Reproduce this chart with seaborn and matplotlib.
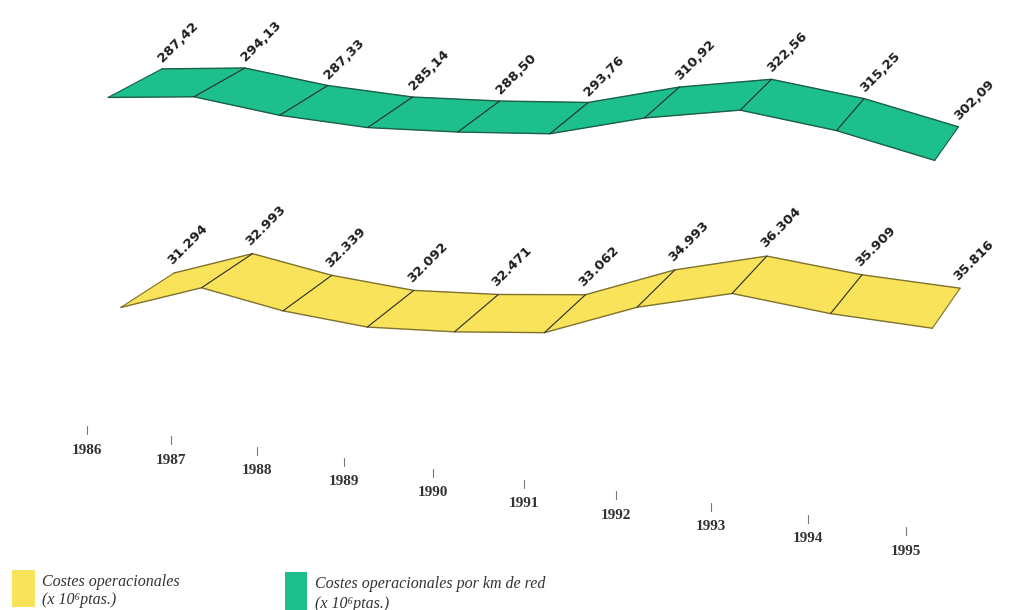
import numpy as np
import pandas as pd
import matplotlib
matplotlib.use("Agg")
import matplotlib.pyplot as plt
from matplotlib.patches import Polygon, Rectangle
import seaborn as sns

# ---------------------------------------------------------------- data
years = [1986, 1987, 1988, 1989, 1990, 1991, 1992, 1993, 1994, 1995]
costes_km = [287.42, 294.13, 287.33, 285.14, 288.50, 293.76, 310.92, 322.56, 315.25, 302.09]
costes_km_labels = ["287,42", "294,13", "287,33", "285,14", "288,50",
                    "293,76", "310,92", "322,56", "315,25", "302,09"]
costes = [31.294, 32.993, 32.339, 32.092, 32.471, 33.062, 34.993, 36.304, 35.909, 35.816]
costes_labels = ["31.294", "32.993", "32.339", "32.092", "32.471",
                 "33.062", "34.993", "36.304", "35.909", "35.816"]
legend_labels = ["Costes operacionales\n(x 10\u2076ptas.)",
                 "Costes operacionales por km de red\n(x 10\u2076ptas.)"]

# ---------------------------------------------------------------- style
sns.set_theme(style="white")
plt.rcParams["font.family"] = ["DejaVu Sans"]

GREEN, GREEN_EDGE = "#1dbf8d", "#1d5f49"
YELLOW, YELLOW_EDGE = "#f8e35a", "#7f7130"
DIVIDER = "#2b2b2b"

# Perspective cameras: (year index, depth 0..1, value, 1) -> canvas pixels.
CAM_KM = np.array([[86.01941, 62.41089, 0.1508115, 68.5423],
                   [8.074319, -26.67364, -1.430141, 511.8162],
                   [-0.009510314, 0.04157585, 0.0001189144, 1.0]])
CAM_COSTES = np.array([[80.65129, 62.83774, 1.02792, 95.05583],
                       [6.813247, -25.65786, -18.35421, 898.0328],
                       [-0.01560413, 0.03880029, 0.001686926, 1.0]])
# Floor line carrying the year ticks: (year index, 1) -> canvas pixels.
CAM_FLOOR = np.array([[82.11032, 87.40316],
                      [6.054795, 426.1189],
                      [-0.009787324, 1.0]])


def project(cam, idx, depth, values):
    pts = np.c_[idx, np.full(len(idx), depth), values, np.ones(len(idx))]
    h = pts @ cam.T
    return h[:, 0] / h[:, 2], h[:, 1] / h[:, 2]


fig = plt.figure(figsize=(10.09, 6.10), dpi=100)
ax = fig.add_axes([0, 0, 1, 1])

idx = np.arange(len(years), dtype=float)


def ribbon(cam, values, labels, fill, edge, offset):
    fx, fy = project(cam, idx, 0.0, values)
    bx, by = project(cam, idx, 1.0, values)
    # one face per year interval
    for i in range(len(idx) - 1):
        quad = [(fx[i], fy[i]), (fx[i + 1], fy[i + 1]),
                (bx[i + 1], by[i + 1]), (bx[i], by[i])]
        ax.add_patch(Polygon(quad, closed=True, facecolor=fill,
                             edgecolor=fill, lw=0.4, zorder=2))
    # front and back edges of the ribbon
    edges = pd.DataFrame({
        "x": np.r_[fx, bx], "y": np.r_[fy, by],
        "edge": ["front"] * len(fx) + ["back"] * len(bx),
    })
    sns.lineplot(data=edges, x="x", y="y", units="edge", estimator=None,
                 sort=False, color=edge, lw=1.0, ax=ax, legend=False, zorder=3)
    # year dividers across the depth of the ribbon
    for i in range(len(idx)):
        col = edge if i in (0, len(idx) - 1) else DIVIDER
        ax.plot([fx[i], bx[i]], [fy[i], by[i]], color=col, lw=0.8, zorder=4)
    for i, lab in enumerate(labels):
        ax.annotate(lab, (bx[i], by[i]), xytext=offset, textcoords="offset points",
                    rotation=45, rotation_mode="anchor", ha="left", va="bottom",
                    fontsize=9.5, fontweight="bold", color="#1e1e1e", zorder=5)


ribbon(CAM_KM, costes_km, costes_km_labels, GREEN, GREEN_EDGE, (2, 3))
ribbon(CAM_COSTES, costes, costes_labels, YELLOW, YELLOW_EDGE, (0, 4))

# ---------------------------------------------------------------- year axis
h = np.c_[idx, np.ones(len(idx))] @ CAM_FLOOR.T
tx, ty = h[:, 0] / h[:, 2], h[:, 1] / h[:, 2]
for x, y, yr in zip(tx, ty, years):
    ax.plot([x, x], [y, y + 8], color="#777777", lw=0.8)
    ax.text(x, y + 24, str(yr), ha="center", va="center", fontsize=11,
            fontweight="bold", family=["Liberation Serif", "DejaVu Serif"],
            color="#333333")

# ---------------------------------------------------------------- legend
legend_items = [((12, 570), (23, 37), YELLOW, (42, 591), legend_labels[0]),
                ((285, 572), (22, 38), GREEN, (315, 594), legend_labels[1])]
for (x0, y0), (w, hgt), col, (lx, ly), lab in legend_items:
    ax.add_patch(Rectangle((x0, y0), w, hgt, facecolor=col, edgecolor="none"))
    ax.text(lx, ly, lab, ha="left", va="center", fontsize=11.5, style="italic",
            family=["Liberation Serif", "DejaVu Serif"], color="#333333",
            linespacing=1.25)

ax.set_xlim(0, 1009)
ax.set_ylim(610, 0)
ax.axis("off")
fig.savefig("out.png", dpi=100, facecolor="white")
